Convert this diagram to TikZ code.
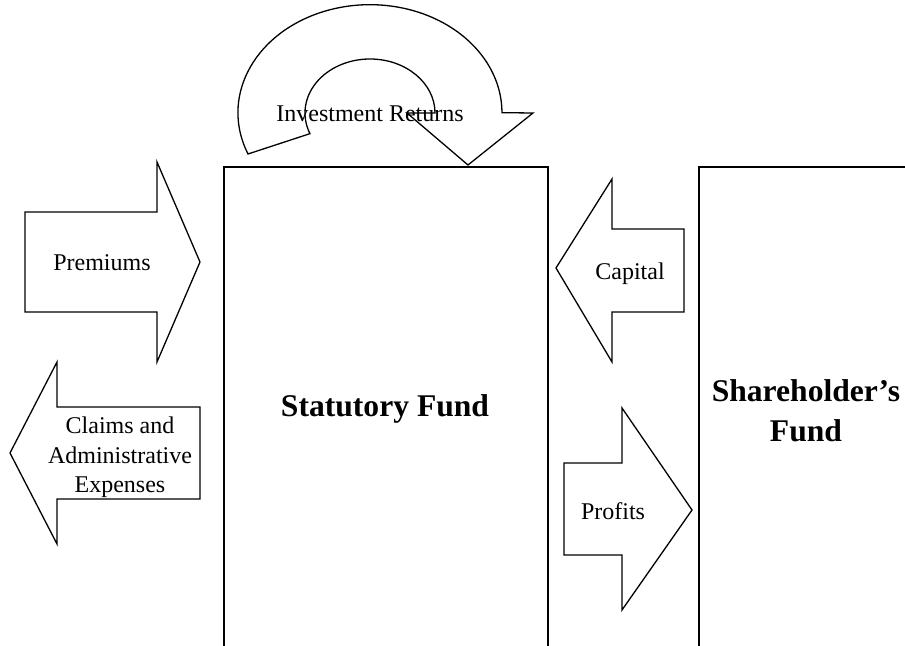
\documentclass[tikz,border=0pt]{standalone}
\usepackage{fontspec}
\setmainfont{Liberation Serif}
\begin{document}
\begin{tikzpicture}[x=0.5pt,y=-0.5pt,
  outline/.style={draw=black,line width=0.65pt,line join=miter},
  flowlabel/.style={inner sep=0pt,anchor=base,align=center,
    font=\fontsize{12}{14.75}\selectfont},
  fundlabel/.style={inner sep=0pt,anchor=base,align=center,
    font=\fontsize{15.8}{20}\selectfont\bfseries}]
  % page frame
  \clip (0,0) rectangle (905,646);
  \fill[white] (0,0) rectangle (905,646);

  % the two funds (open at the page edges)
  \draw[outline] (224,660) -- (224,167) -- (548,167) -- (548,660);
  \draw[outline] (699,660) -- (699,167) -- (920,167);

  % investment returns: curved block arrow looping back into the fund
  \draw[outline] (248,154)
    arc[start angle=157.5,end angle=360,x radius=132,y radius=108]
    -- (533,113) -- (468,165) -- (407,113) -- (435,113)
    arc[start angle=360,end angle=157.5,x radius=65,y radius=54]
    -- cycle;

  % premiums in
  \draw[outline] (25,212) -- (157,212) -- (157,162) -- (200,262)
    -- (157,362) -- (157,312) -- (25,312) -- cycle;
  % claims and expenses out
  \draw[outline] (200,407) -- (57,407) -- (57,362) -- (10,453)
    -- (57,544) -- (57,499) -- (200,499) -- cycle;
  % capital from the shareholders
  \draw[outline] (684,229) -- (612,229) -- (612,179) -- (556,268)
    -- (612,362) -- (612,312) -- (684,312) -- cycle;
  % profits to the shareholders
  \draw[outline] (564,463) -- (622,463) -- (622,408) -- (692,510)
    -- (622,610) -- (622,555) -- (564,555) -- cycle;

  % labels (multi-line labels sit on the baseline of their last line)
  \node[flowlabel] (inv) at (370,122) {Investment Returns};
  \node[flowlabel] (prem) at (102,271) {Premiums};
  \node[flowlabel] (claims) at (120,493) {Claims and\\Administrative\\Expenses};
  \node[flowlabel] (cap) at (630,280) {Capital};
  \node[flowlabel] (prof) at (613,519) {Profits};
  \node[fundlabel] (stat) at (385,417) {Statutory Fund};
  \node[fundlabel] (share) at (806,442) {Shareholder’s\\Fund};
\end{tikzpicture}
\end{document}
